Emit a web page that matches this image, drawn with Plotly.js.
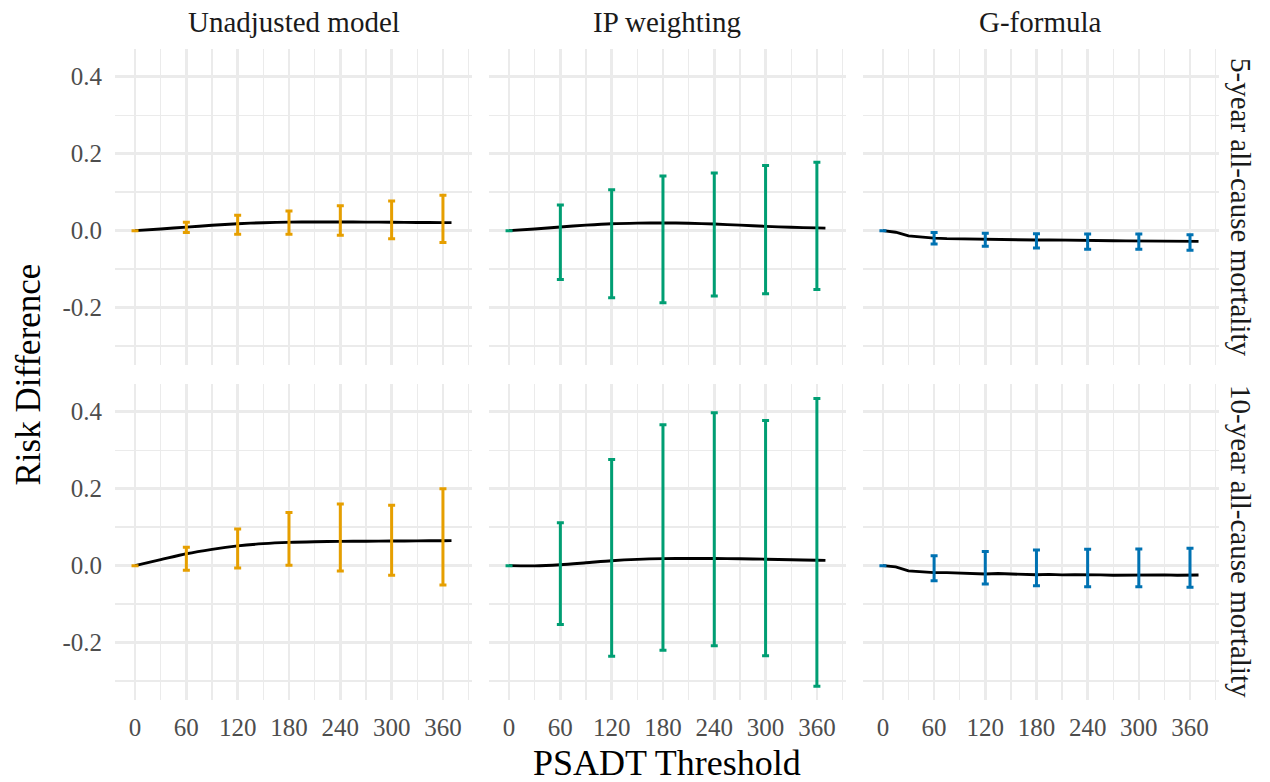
<!DOCTYPE html>
<html>
<head>
<meta charset="utf-8">
<script src="https://cdn.plot.ly/plotly-3.0.1.min.js"></script>
<style>html,body{margin:0;padding:0;background:#fff;}#chart{width:1270px;height:782px;}</style>
</head>
<body>
<div id="chart"></div>
<script>
// ---------- data ----------
const methods = ["Unadjusted model", "IP weighting", "G-formula"];
const outcomes = ["5-year all-cause mortality", "10-year all-cause mortality"];
const methodColors = ["#E69F00", "#009E73", "#0072B2"];

// smooth curves (unadjusted, IPW)
const smoothX = [0, 30, 60, 90, 120, 150, 180, 210, 240, 270, 300, 330, 360, 370];
const unadj5Line = [0, 0.0045, 0.0092, 0.0140, 0.0180, 0.0207, 0.0222, 0.0227, 0.0226, 0.0223, 0.0219, 0.0214, 0.0210, 0.0209];
const ipw5Line   = [0, 0.0045, 0.0095, 0.0143, 0.0181, 0.0197, 0.0201, 0.0193, 0.0172, 0.0143, 0.0112, 0.0088, 0.0072, 0.0066];
const unadj10Line = [0, 0.0155, 0.0310, 0.0425, 0.0515, 0.0572, 0.0605, 0.0622, 0.0630, 0.0636, 0.0640, 0.0644, 0.0648, 0.0650];
const ipw10Line   = [0, -0.0005, 0.0025, 0.0075, 0.0128, 0.0163, 0.0182, 0.0188, 0.0186, 0.0180, 0.0168, 0.0155, 0.0142, 0.0138];

// g-formula curves (wiggly)
const gfX = [0, 15, 30, 45, 60, 75, 90, 105, 120, 135, 150, 165, 180, 195, 210, 225, 240, 255, 270, 285, 300, 315, 330, 345, 360, 370];
const gf5Line  = [0, -0.0040, -0.0135, -0.0170, -0.0195, -0.0208, -0.0215, -0.0225, -0.0230, -0.0233, -0.0236, -0.0238, -0.0242, -0.0238, -0.0246, -0.0248, -0.0255, -0.0252, -0.0260, -0.0264, -0.0268, -0.0268, -0.0265, -0.0271, -0.0275, -0.0278];
const gf10Line = [0, -0.0030, -0.0135, -0.0165, -0.0180, -0.0182, -0.0195, -0.0210, -0.0218, -0.0205, -0.0220, -0.0226, -0.0236, -0.0226, -0.0240, -0.0234, -0.0246, -0.0240, -0.0248, -0.0244, -0.0252, -0.0244, -0.0240, -0.0248, -0.0240, -0.0242];

// confidence intervals at thresholds
const ciX = [0, 60, 120, 180, 240, 300, 360];
const unadj5Lo = [0, -0.005, -0.0094, -0.0094, -0.012, -0.0208, -0.031];
const unadj5Hi = [0, 0.0218, 0.040, 0.051, 0.065, 0.077, 0.092];
const ipw5Lo = [0, -0.127, -0.174, -0.187, -0.170, -0.164, -0.153];
const ipw5Hi = [0, 0.0668, 0.1065, 0.142, 0.150, 0.169, 0.178];
const gf5Lo = [0, -0.0345, -0.0406, -0.045, -0.0484, -0.0484, -0.051];
const gf5Hi = [0, -0.005, -0.0068, -0.0077, -0.0086, -0.0086, -0.0103];
const unadj10Lo = [0, -0.012, -0.006, 0.001, -0.014, -0.025, -0.050];
const unadj10Hi = [0, 0.0476, 0.095, 0.138, 0.160, 0.157, 0.200];
const ipw10Lo = [0, -0.153, -0.2355, -0.220, -0.208, -0.234, -0.313];
const ipw10Hi = [0, 0.1117, 0.276, 0.366, 0.397, 0.377, 0.4346];
const gf10Lo = [0, -0.039, -0.0476, -0.052, -0.0545, -0.055, -0.056];
const gf10Hi = [0, 0.026, 0.037, 0.041, 0.0424, 0.043, 0.045];

const xTickVals = [0, 60, 120, 180, 240, 300, 360];
const xTickText = ["0", "60", "120", "180", "240", "300", "360"];
const yTickVals = [-0.2, 0, 0.2, 0.4];
const yTickText = ["-0.2", "0.0", "0.2", "0.4"];
const xTitle = "PSADT Threshold";
const yTitle = "Risk Difference";

// ---------- build ----------
const panels = [
  {lx: smoothX, ly: unadj5Line, lo: unadj5Lo, hi: unadj5Hi, m: 0, r: 0, shape: "spline"},
  {lx: smoothX, ly: ipw5Line, lo: ipw5Lo, hi: ipw5Hi, m: 1, r: 0, shape: "spline"},
  {lx: gfX, ly: gf5Line, lo: gf5Lo, hi: gf5Hi, m: 2, r: 0, shape: "linear"},
  {lx: smoothX, ly: unadj10Line, lo: unadj10Lo, hi: unadj10Hi, m: 0, r: 1, shape: "spline"},
  {lx: smoothX, ly: ipw10Line, lo: ipw10Lo, hi: ipw10Hi, m: 1, r: 1, shape: "spline"},
  {lx: gfX, ly: gf10Line, lo: gf10Lo, hi: gf10Hi, m: 2, r: 1, shape: "linear"}
];

const FONT = "Liberation Serif, Times New Roman, serif";
const xDomains = [[0, 0.3234], [0.3388, 0.6621], [0.6775, 1]];
const yDomains = [[0.5146, 1], [0, 0.4854]];
const GRID = "#EBEBEB";

const traces = [];
const layout = {
  width: 1270, height: 782,
  margin: {l: 115, r: 51, t: 49, b: 82, pad: 0},
  paper_bgcolor: "#ffffff", plot_bgcolor: "#ffffff",
  showlegend: false,
  font: {family: FONT, color: "#4D4D4D"},
  annotations: []
};

panels.forEach((p, i) => {
  const idx = i + 1;
  const xa = idx === 1 ? "x" : "x" + idx;
  const ya = idx === 1 ? "y" : "y" + idx;
  // estimates at CI positions taken from the line arrays
  const est = ciX.map(v => p.ly[p.lx.indexOf(v)]);
  traces.push({
    type: "scatter", mode: "lines", x: p.lx, y: p.ly, xaxis: xa, yaxis: ya,
    line: {color: "#000000", width: 2.9, shape: p.shape, smoothing: 0.8},
    hoverinfo: "skip"
  });
  traces.push({
    type: "scatter", mode: "markers", x: ciX, y: est, xaxis: xa, yaxis: ya,
    marker: {size: 1, opacity: 0},
    error_y: {
      type: "data", symmetric: false,
      array: p.hi.map((h, k) => h - est[k]),
      arrayminus: p.lo.map((l, k) => est[k] - l),
      color: methodColors[p.m], thickness: 3, width: 3.5
    },
    hoverinfo: "skip"
  });
  const xKey = idx === 1 ? "xaxis" : "xaxis" + idx;
  const yKey = idx === 1 ? "yaxis" : "yaxis" + idx;
  layout[xKey] = {
    domain: xDomains[p.m], anchor: ya, range: [-23.4, 394],
    tickmode: "array", tickvals: xTickVals, ticktext: xTickText,
    showticklabels: p.r === 1, ticks: "", ticklabelstandoff: 10,
    tickfont: {family: FONT, size: 25, color: "#4D4D4D"},
    showgrid: true, gridcolor: GRID, gridwidth: 2.5,
    minor: {tickmode: "linear", tick0: 30, dtick: 60, showgrid: true, gridcolor: GRID, gridwidth: 1.4, ticks: ""},
    zeroline: false, showline: false, fixedrange: true
  };
  layout[yKey] = {
    domain: yDomains[p.r], anchor: xa, range: [-0.349, 0.472],
    tickmode: "array", tickvals: yTickVals, ticktext: yTickText,
    showticklabels: p.m === 0, ticks: "", ticklabelstandoff: 12,
    tickfont: {family: FONT, size: 25, color: "#4D4D4D"},
    showgrid: true, gridcolor: GRID, gridwidth: 2.5,
    minor: {tickmode: "linear", tick0: 0.1, dtick: 0.2, showgrid: true, gridcolor: GRID, gridwidth: 1.4, ticks: ""},
    zeroline: false, showline: false, fixedrange: true
  };
});

// strip labels (top)
methods.forEach((m, j) => {
  layout.annotations.push({
    text: m, xref: "paper", yref: "paper",
    x: (xDomains[j][0] + xDomains[j][1]) / 2, y: 1.0415,
    xanchor: "center", yanchor: "middle", showarrow: false,
    font: {family: FONT, size: 29, color: "#1A1A1A"}
  });
});
// strip labels (right)
outcomes.forEach((o, r) => {
  layout.annotations.push({
    text: o, xref: "paper", yref: "paper",
    x: 1.0199, y: (yDomains[r][0] + yDomains[r][1]) / 2,
    xanchor: "center", yanchor: "middle", showarrow: false, textangle: 90,
    font: {family: FONT, size: 29, color: "#1A1A1A"}
  });
});
// axis titles
layout.annotations.push({
  text: xTitle, xref: "paper", yref: "paper", x: 0.5, y: -0.0968,
  xanchor: "center", yanchor: "middle", showarrow: false,
  font: {family: FONT, size: 36, color: "#000000"}
});
layout.annotations.push({
  text: yTitle, xref: "paper", yref: "paper", x: -0.0788, y: 0.5,
  xanchor: "center", yanchor: "middle", showarrow: false, textangle: -90,
  font: {family: FONT, size: 35, color: "#000000"}
});

Plotly.newPlot("chart", traces, layout, {displayModeBar: false, staticPlot: true});
</script>
</body>
</html>
